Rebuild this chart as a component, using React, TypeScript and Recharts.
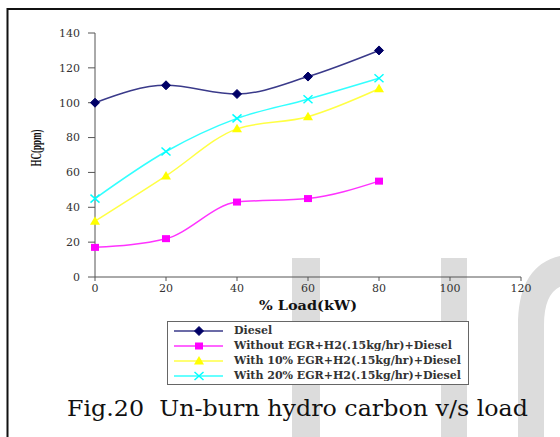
import React from "react";
import { LineChart, Line, XAxis, YAxis, Label } from "recharts";

const loads = [0, 20, 40, 60, 80];
const diesel = [100, 110, 105, 115, 130];
const withoutEgr = [17, 22, 43, 45, 55];
const egr10 = [32, 58, 85, 92, 108];
const egr20 = [45, 72, 91, 102, 114];
const xTicks = [0, 20, 40, 60, 80, 100, 120];
const yTicks = [0, 20, 40, 60, 80, 100, 120, 140];

const seriesNames = [
  "Diesel",
  "Without EGR+H2(.15kg/hr)+Diesel",
  "With 10% EGR+H2(.15kg/hr)+Diesel",
  "With 20% EGR+H2(.15kg/hr)+Diesel",
];

const data = loads.map((x, i) => ({
  load: x,
  diesel: diesel[i],
  without: withoutEgr[i],
  egr10: egr10[i],
  egr20: egr20[i],
}));

type Kind = "diamond" | "square" | "triangle" | "cross";

const markerColor: Record<Kind, string> = {
  diamond: "#000066",
  square: "#ff00ff",
  triangle: "#ffff00",
  cross: "#00ffff",
};

function Marker({ kind, cx, cy }: { kind: Kind; cx: number; cy: number }) {
  const c = markerColor[kind];
  if (kind === "diamond")
    return <polygon points={`${cx},${cy - 4.5} ${cx + 4.5},${cy} ${cx},${cy + 4.5} ${cx - 4.5},${cy}`} fill={c} stroke={c} />;
  if (kind === "square") return <rect x={cx - 4} y={cy - 3.5} width={8} height={7} fill={c} />;
  if (kind === "triangle")
    return <polygon points={`${cx},${cy - 5} ${cx + 5},${cy + 3.5} ${cx - 5},${cy + 3.5}`} fill={c} />;
  return (
    <g stroke={c} strokeWidth={1.5}>
      <line x1={cx - 4.5} y1={cy - 4} x2={cx + 4.5} y2={cy + 4} />
      <line x1={cx - 4.5} y1={cy + 4} x2={cx + 4.5} y2={cy - 4} />
    </g>
  );
}

const dotFor = (kind: Kind) => (p: any) =>
  <Marker key={`${kind}-${p.index}`} kind={kind} cx={p.cx} cy={p.cy} />;

const series: { key: string; kind: Kind; line: string }[] = [
  { key: "diesel", kind: "diamond", line: "#3a3a8a" },
  { key: "without", kind: "square", line: "#ff33ff" },
  { key: "egr10", kind: "triangle", line: "#ffff44" },
  { key: "egr20", kind: "cross", line: "#33ffff" },
];

const serif = "'DejaVu Serif', serif";

function LegendBox() {
  return (
    <div
      style={{
        position: "absolute",
        left: 167,
        top: 321,
        width: 302,
        height: 64,
        border: "1px solid #666",
        background: "#fff",
        boxSizing: "border-box",
        paddingTop: 1,
      }}
    >
      {series.map((s, i) => (
        <div key={s.key} style={{ display: "flex", alignItems: "center", height: 15 }}>
          <svg width={52} height={14} style={{ marginLeft: 5, flex: "none" }}>
            <line x1={1} y1={7} x2={50} y2={7} stroke={s.line} strokeWidth={1.5} />
            <Marker kind={s.kind} cx={26} cy={7} />
          </svg>
          <span
            style={{
              fontFamily: serif,
              fontWeight: "bold",
              fontSize: 11,
              color: "#333",
              marginLeft: 9,
              whiteSpace: "nowrap",
            }}
          >
            {seriesNames[i]}
          </span>
        </div>
      ))}
    </div>
  );
}

const YLabel = (props: any) => {
  const vb = props.viewBox || { y: 33, height: 244 };
  const cy = vb.y + vb.height / 2 - 7;
  return (
    <text
      x={0}
      y={0}
      transform={`translate(41, ${cy}) rotate(-90)`}
      textAnchor="middle"
      textLength={37}
      lengthAdjust="spacingAndGlyphs"
      style={{ fontFamily: "'Liberation Serif', serif", fontWeight: "bold", fontSize: 14.5, fill: "#111" }}
    >
      HC(ppm)
    </text>
  );
};

const XLabel = (props: any) => {
  const vb = props.viewBox || { x: 95, width: 426 };
  const cx = vb.x + vb.width / 2 + 0;
  return (
    <text
      x={cx}
      y={310}
      textAnchor="middle"
      textLength={98}
      lengthAdjust="spacingAndGlyphs"
      style={{ fontFamily: serif, fontWeight: "bold", fontSize: 12.5, fill: "#111" }}
    >
      % Load(kW)
    </text>
  );
};

export default function App() {
  return (
    <div style={{ position: "absolute", left: 0, top: 0, width: 560, height: 437, background: "#fff", overflow: "hidden" }}>
      <svg width={560} height={437} style={{ position: "absolute", left: 0, top: 0 }}>
        <rect x={292} y={258} width={28} height={179} fill="#dcdcdc" />
        <rect x={441} y={258} width={26} height={179} fill="#dcdcdc" />
        <path d="M 518 437 L 518 320 Q 520 262 565 255 L 565 285 Q 544 290 544 325 L 544 437 Z" fill="#dcdcdc" />
        <line x1={7} y1={9} x2={560} y2={9} stroke="#111" strokeWidth={2} />
        <line x1={7.5} y1={8} x2={7.5} y2={437} stroke="#111" strokeWidth={2} />
      </svg>
      <div style={{ position: "absolute", left: 0, top: 0 }}>
        <LineChart
          width={560}
          height={437}
          data={data}
          margin={{ top: 33, right: 39, bottom: 130, left: 0 }}
        >
          <XAxis
            dataKey="load"
            type="number"
            domain={[0, 120]}
            ticks={xTicks}
            interval={0}
            height={30}
            stroke="#555"
            tickSize={4}
            tickMargin={3}
            tick={{ fontFamily: serif, fontSize: 11, fill: "#333" }}
          >
            <Label content={XLabel} />
          </XAxis>
          <YAxis
            type="number"
            domain={[0, 140]}
            ticks={yTicks}
            interval={0}
            width={95}
            stroke="#555"
            tickSize={7}
            tickMargin={8}
            tick={{ fontFamily: serif, fontSize: 11, fill: "#333" }}
          >
            <Label content={YLabel} />
          </YAxis>
          {series.map((s) => (
            <Line
              key={s.key}
              dataKey={s.key}
              name={s.key}
              type="monotone"
              stroke={s.line}
              strokeWidth={1.5}
              dot={dotFor(s.kind)}
              activeDot={false}
              isAnimationActive={false}
            />
          ))}
        </LineChart>
      </div>
      <LegendBox />
      <svg width={560} height={437} style={{ position: "absolute", left: 0, top: 0, pointerEvents: "none" }}>
        <text
          x={67}
          y={416}
          textLength={461}
          lengthAdjust="spacingAndGlyphs"
          style={{ fontFamily: "'DejaVu Serif', serif", fontSize: 23, fill: "#111", whiteSpace: "pre" }}
        >
          Fig.20{"\u00a0\u00a0"}Un-burn hydro carbon v/s load
        </text>
      </svg>
    </div>
  );
}
